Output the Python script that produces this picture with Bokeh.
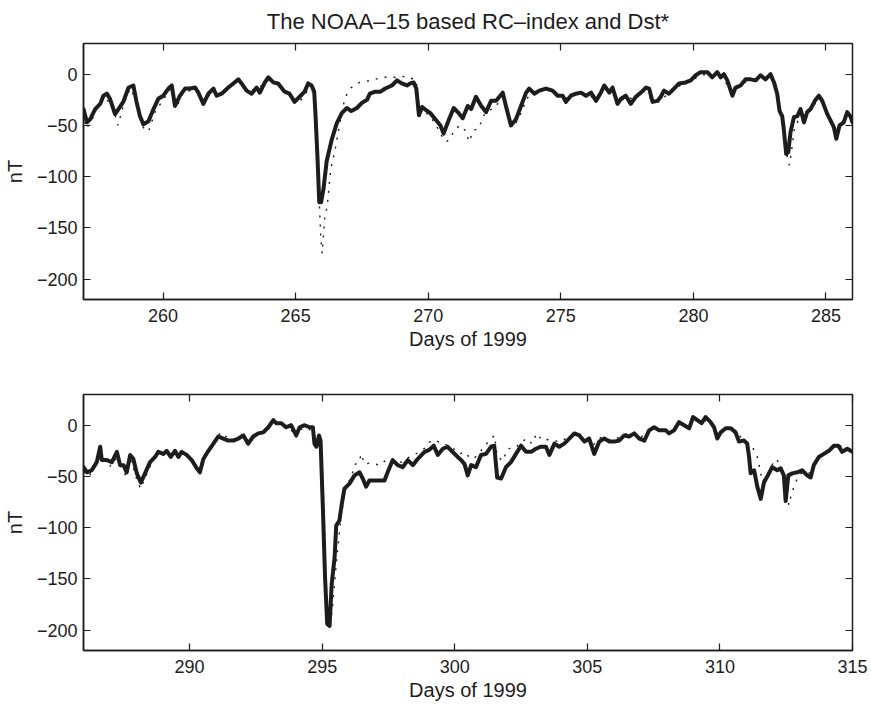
from bokeh.plotting import figure
from bokeh.layouts import column
from bokeh.models import LinearAxis, FixedTicker, Range1d, CustomLabelingPolicy
from bokeh.embed import file_html
from bokeh.resources import INLINE

TITLE = "The NOAA\u201315 based RC\u2013index and Dst*"
XLABEL = "Days of 1999"
YLABEL = "nT"

# ---------------- top panel (days 257-286) ----------------
rc_top_day = [257.0, 257.13, 257.25, 257.44, 257.63, 257.75, 257.88, 258.0, 258.19, 258.32, 258.5, 258.7, 258.88,
              259.0, 259.13, 259.26, 259.45, 259.64, 259.82, 260.01, 260.2, 260.33, 260.45, 260.64, 260.83, 261.02,
              261.21, 261.33, 261.52, 261.71, 261.9, 262.02, 262.21, 262.46, 262.65, 262.84, 262.96, 263.15, 263.34,
              263.53, 263.65, 263.84, 263.97, 264.16, 264.34, 264.58, 264.77, 264.96, 265.15, 265.34, 265.47, 265.6,
              265.7, 265.75, 265.83, 265.89, 265.96, 266.05, 266.17, 266.36, 266.55, 266.74, 266.93, 267.1, 267.31,
              267.5, 267.69, 267.8, 268.0, 268.2, 268.38, 268.63, 268.82, 269.0, 269.2, 269.32, 269.45, 269.55,
              269.65, 269.77, 269.92, 270.08, 270.27, 270.46, 270.58, 270.77, 270.96, 271.15, 271.3, 271.49, 271.62,
              271.8, 272.0, 272.18, 272.37, 272.56, 272.81, 272.93, 273.12, 273.31, 273.5, 273.69, 273.81, 274.0,
              274.19, 274.44, 274.69, 274.88, 275.07, 275.19, 275.38, 275.57, 275.76, 275.95, 276.14, 276.33, 276.51,
              276.64, 276.83, 276.95, 277.14, 277.27, 277.45, 277.64, 277.83, 278.02, 278.21, 278.33, 278.46, 278.65,
              278.77, 278.89, 279.08, 279.27, 279.46, 279.71, 279.9, 280.09, 280.27, 280.53, 280.71, 280.9, 281.03,
              281.15, 281.28, 281.37, 281.47, 281.59, 281.78, 281.97, 282.16, 282.35, 282.53, 282.72, 282.91, 283.04,
              283.16, 283.25, 283.35, 283.41, 283.5, 283.58, 283.66, 283.79, 283.92, 284.04, 284.17, 284.29, 284.42,
              284.58, 284.73, 284.86, 285.05, 285.17, 285.3, 285.39, 285.51, 285.67, 285.8, 285.92, 286.0]
rc_top_val = [-34, -47, -44, -34, -29, -21, -19, -24, -39, -34, -27, -13, -11,
              -27, -41, -49, -46, -34, -24, -21, -14, -11, -31, -21, -14, -14,
              -13, -18, -29, -19, -14, -21, -19, -13, -9, -5, -9, -16, -19,
              -13, -18, -8, -3, -8, -9, -17, -19, -27, -22, -17, -9, -11,
              -17, -40, -85, -125, -125, -112, -85, -64, -48, -38, -33, -36, -33,
              -28, -25, -19, -17, -17, -14, -11, -6, -9, -11, -9, -8, -14,
              -40, -32, -35, -38, -44, -50, -58, -45, -33, -38, -43, -31, -34,
              -22, -31, -37, -26, -26, -18, -31, -50, -44, -31, -18, -14, -19,
              -16, -14, -16, -21, -21, -27, -21, -19, -18, -21, -18, -26, -18,
              -11, -18, -13, -29, -24, -21, -29, -22, -18, -13, -14, -27, -26,
              -22, -16, -19, -14, -9, -8, -6, -1, 2, 2, -3, 2, -3,
              0, -6, -13, -21, -13, -11, -5, -5, -6, -1, -5, 0, -8,
              -19, -36, -41, -54, -78, -76, -57, -42, -41, -34, -47, -37, -34,
              -26, -21, -26, -39, -45, -52, -63, -50, -47, -37, -41, -47]

dst_top_day = [257.0, 257.1, 257.3, 257.5, 257.75, 258.0, 258.25, 258.3, 258.5, 258.75, 259.0, 259.25, 259.45,
               259.7, 260.0, 260.3, 260.5, 260.75, 261.0, 261.3, 261.5, 261.75, 262.0, 262.3, 262.6, 262.9, 263.2,
               263.5, 263.8, 264.0, 264.25, 264.5, 264.75, 265.0, 265.25, 265.5, 265.7, 265.8, 265.9, 265.95, 266.0,
               266.1, 266.19, 266.24, 266.28, 266.32, 266.41, 266.5, 266.6, 266.68, 266.78, 266.85, 267.1, 267.41,
               267.85, 268.29, 268.76, 269.17, 269.55, 269.6, 269.7, 269.9, 270.1, 270.3, 270.5, 270.67, 270.8,
               271.0, 271.2, 271.4, 271.54, 271.7, 271.9, 272.1, 272.3, 272.5, 272.7, 272.9, 273.1, 273.3, 273.5,
               273.7, 273.9, 274.2, 274.5, 274.8, 275.1, 275.4, 275.7, 276.0, 276.3, 276.6, 276.9, 277.2, 277.5,
               277.8, 278.1, 278.4, 278.7, 279.0, 279.3, 279.6, 279.9, 280.2, 280.5, 280.8, 281.1, 281.4, 281.7,
               282.0, 282.3, 282.6, 282.9, 283.1, 283.2, 283.3, 283.45, 283.55, 283.62, 283.7, 283.8, 283.95,
               284.1, 284.3, 284.5, 284.75, 285.0, 285.2, 285.4, 285.6, 285.8, 286.0]
dst_top_val = [-38, -53, -46, -33, -24, -27, -44, -50, -31, -14, -25, -52, -56,
               -37, -25, -14, -33, -18, -16, -17, -31, -20, -21, -18, -11, -7, -17,
               -14, -10, -5, -10, -15, -20, -29, -24, -14, -18, -60, -130, -160, -175,
               -140, -129, -116, -104, -93, -83, -72, -58, -45, -34, -23, -13, -8,
               -6, -3, -3, -2, -6, -21, -38, -37, -42, -50, -60, -66, -64,
               -54, -50, -55, -66, -55, -53, -40, -35, -33, -26, -27, -45, -48, -38,
               -25, -17, -16, -14, -18, -24, -22, -19, -20, -24, -14, -14, -27, -22,
               -25, -16, -24, -27, -20, -15, -9, -7, -2, 0, -2, -2, -17, -13,
               -7, -6, -3, -2, -12, -24, -38, -60, -82, -89, -75, -55, -45,
               -40, -40, -32, -23, -35, -47, -58, -48, -42, -44]

# ---------------- bottom panel (days 286-315) ----------------
rc_bot_day = [286.0, 286.13, 286.31, 286.5, 286.63, 286.69, 286.88, 287.07, 287.26, 287.38, 287.51, 287.63, 287.76,
              287.88, 288.01, 288.16, 288.32, 288.51, 288.7, 288.82, 289.01, 289.14, 289.29, 289.45, 289.58, 289.7,
              289.89, 290.08, 290.27, 290.39, 290.52, 290.71, 290.9, 291.08, 291.27, 291.46, 291.65, 291.84, 292.03,
              292.21, 292.4, 292.59, 292.78, 292.97, 293.16, 293.27, 293.46, 293.64, 293.83, 294.02, 294.15, 294.34,
              294.52, 294.65, 294.71, 294.78, 294.88, 294.94, 295.03, 295.11, 295.19, 295.28, 295.36, 295.47, 295.53,
              295.65, 295.74, 295.84, 296.03, 296.22, 296.41, 296.53, 296.66, 296.78, 296.97, 297.16, 297.35, 297.47,
              297.66, 297.85, 298.04, 298.23, 298.42, 298.6, 298.86, 299.04, 299.21, 299.36, 299.55, 299.73, 299.92,
              300.11, 300.24, 300.37, 300.49, 300.62, 300.8, 300.99, 301.18, 301.37, 301.49, 301.6, 301.75, 301.93,
              302.12, 302.31, 302.5, 302.69, 302.88, 303.06, 303.25, 303.44, 303.57, 303.76, 303.94, 304.13, 304.32,
              304.51, 304.7, 304.89, 305.07, 305.26, 305.45, 305.64, 305.83, 306.02, 306.2, 306.39, 306.58, 306.77,
              306.96, 307.15, 307.33, 307.52, 307.71, 307.96, 308.08, 308.27, 308.46, 308.65, 308.84, 308.99, 309.15,
              309.31, 309.46, 309.65, 309.78, 309.9, 310.03, 310.22, 310.41, 310.59, 310.72, 310.91, 311.03, 311.1,
              311.16, 311.29, 311.41, 311.54, 311.66, 311.85, 311.97, 312.16, 312.29, 312.41, 312.48, 312.58, 312.73,
              312.92, 313.1, 313.29, 313.42, 313.54, 313.73, 313.92, 314.11, 314.3, 314.46, 314.61, 314.8, 315.0]
rc_bot_val = [-41, -46, -44, -36, -21, -34, -34, -36, -26, -39, -39, -46, -29,
              -33, -47, -56, -47, -36, -31, -26, -28, -25, -31, -25, -31, -26,
              -29, -34, -42, -46, -33, -25, -18, -11, -13, -15, -15, -13, -10,
              -18, -11, -8, -7, -2, 5, 2, 2, -2, 0, -10, -2, 0,
              -2, -2, -18, -21, -10, -15, -83, -149, -194, -196, -155, -129, -98,
              -93, -77, -62, -57, -49, -46, -52, -60, -54, -54, -54, -54, -46,
              -34, -39, -41, -34, -39, -33, -26, -24, -20, -29, -23, -21, -26,
              -31, -34, -38, -49, -39, -41, -29, -28, -21, -20, -51, -52, -41,
              -36, -28, -20, -26, -26, -23, -21, -21, -29, -18, -21, -18, -13,
              -8, -10, -16, -13, -28, -16, -13, -16, -16, -15, -10, -11, -8,
              -13, -15, -5, -2, -5, -5, -8, -5, 3, 0, -3, 8, 5,
              2, 8, 3, -2, -13, -7, -3, -3, -7, -16, -15, -18, -31,
              -47, -44, -60, -72, -56, -47, -41, -44, -42, -49, -74, -49, -47,
              -46, -44, -49, -51, -39, -31, -28, -25, -20, -20, -26, -23, -26]

dst_bot_day = [286.0, 286.2, 286.4, 286.6, 286.8, 287.0, 287.2, 287.4, 287.6, 287.8, 288.0, 288.15, 288.35,
               288.55, 288.8, 289.0, 289.2, 289.4, 289.6, 289.8, 290.0, 290.2, 290.4, 290.6, 290.8, 291.0, 291.2,
               291.5, 291.8, 292.0, 292.2, 292.5, 292.8, 293.0, 293.2, 293.5, 293.8, 294.0, 294.2, 294.5, 294.7,
               294.9, 295.0, 295.05, 295.1, 295.15, 295.2, 295.27, 295.33, 295.4, 295.45, 295.5, 295.55, 295.6,
               295.65, 295.7, 295.78, 295.85, 295.95, 296.1, 296.25, 296.4, 296.47, 296.6, 296.8, 297.0, 297.2,
               297.4, 297.6, 297.8, 298.0, 298.2, 298.4, 298.6, 298.9, 299.1, 299.3, 299.5, 299.8, 300.0, 300.2,
               300.37, 300.5, 300.7, 300.9, 301.2, 301.5, 301.6, 301.8, 302.0, 302.3, 302.5, 302.75, 302.9, 303.1,
               303.3, 303.5, 303.7, 304.0, 304.3, 304.6, 304.9, 305.2, 305.5, 305.8, 306.1, 306.4, 306.7, 307.0,
               307.3, 307.6, 307.9, 308.2, 308.5, 308.8, 309.1, 309.4, 309.7, 309.9, 310.2, 310.5, 310.8, 311.0,
               311.15, 311.29, 311.41, 311.5, 311.6, 311.75, 311.9, 312.1, 312.3, 312.45, 312.6, 312.7, 312.85,
               313.0, 313.2, 313.4, 313.6, 313.8, 314.0, 314.3, 314.5, 314.7, 315.0]
dst_bot_val = [-45, -50, -42, -30, -37, -40, -33, -38, -50, -35, -52, -62, -50,
               -38, -25, -27, -24, -28, -28, -27, -32, -38, -42, -31, -20, -12, -7,
               -14, -14, -9, -15, -9, -7, -2, 3, -1, -3, -12, -4, -3, -14,
               -20, -40, -70, -110, -160, -192, -198, -190, -175, -160, -145, -130, -118,
               -105, -92, -78, -65, -58, -50, -38, -36, -28, -38, -37, -38, -39,
               -34, -33, -36, -36, -32, -30, -27, -22, -15, -15, -18, -20, -24, -28,
               -26, -30, -33, -28, -18, -10, -30, -35, -23, -22, -16, -13, -18, -8,
               -15, -14, -15, -16, -11, -8, -12, -20, -12, -14, -13, -9, -7, -12,
               -6, -3, -5, -6, 1, -2, 5, 5, 1, -8, -4, -5, -12, -16,
               -20, -24, -31, -42, -55, -50, -42, -33, -38, -55, -78, -67, -56,
               -48, -45, -47, -37, -30, -27, -22, -19, -24, -23]

X_TICKS_TOP = [260, 265, 270, 275, 280, 285]
X_TICKS_BOT = [290, 295, 300, 305, 310, 315]
Y_TICKS = [-200, -150, -100, -50, 0]
Y_TICK_LABELS = {-200: "\u2212200", -150: "\u2212150", -100: "\u2212100", -50: "\u221250", 0: "0"}

FONT = "Liberation Sans"
INK = "#1e1c1d"

NO_LABELS = "for (const i of Array.from(indices.ones())) { indices.unset(i) } return indices"


def make_panel(rc_day, rc_val, dst_day, dst_val, xr, xticks, height, top_border, bottom_border, title=None):
    p = figure(width=871, height=height, output_backend="svg", toolbar_location=None,
               x_range=Range1d(*xr), y_range=Range1d(-220, 30),
               min_border_left=82, min_border_right=19,
               min_border_top=top_border, min_border_bottom=bottom_border,
               x_axis_label=XLABEL, y_axis_label=YLABEL)
    if title:
        p.title.text = title
        p.title.align = "center"
        p.title.vertical_align = "top"
        p.title.text_font = FONT
        p.title.text_font_size = "22px"
        p.title.text_font_style = "normal"
        p.title.text_color = INK
        p.title.standoff = 16
    p.grid.visible = False
    p.outline_line_color = INK
    p.outline_line_width = 1.5
    p.background_fill_color = "white"
    p.border_fill_color = "white"

    p.xaxis.ticker = FixedTicker(ticks=xticks)
    p.yaxis.ticker = FixedTicker(ticks=Y_TICKS)
    p.yaxis.major_label_overrides = Y_TICK_LABELS
    for ax in (p.xaxis[0], p.yaxis[0]):
        ax.major_tick_in = 7
        ax.major_tick_out = 0
        ax.minor_tick_line_color = None
        ax.major_tick_line_color = INK
        ax.major_tick_line_width = 1.2
        ax.axis_line_color = INK
        ax.axis_line_width = 1.5
        ax.major_label_text_font = FONT
        ax.major_label_text_font_size = "18px"
        ax.major_label_text_color = INK
        ax.axis_label_text_font = FONT
        ax.axis_label_text_font_size = "20px"
        ax.axis_label_text_font_style = "normal"
        ax.axis_label_text_color = INK
    p.xaxis.major_label_standoff = 9
    p.xaxis.axis_label_standoff = 3
    p.yaxis.major_label_standoff = 6
    p.yaxis.axis_label_standoff = 8

    for side, tk in (("right", Y_TICKS), ("above", xticks)):
        ax = LinearAxis(ticker=FixedTicker(ticks=tk), major_tick_in=7, major_tick_out=0,
                        minor_tick_line_color=None, axis_line_color=None,
                        major_tick_line_color=INK, major_tick_line_width=1.2,
                        major_label_text_font_size="0px", major_label_standoff=0,
                        major_label_policy=CustomLabelingPolicy(code=NO_LABELS))
        p.add_layout(ax, side)

    p.line(dst_day, dst_val, line_color=INK, line_width=1.4, line_dash="2 7")
    p.line(rc_day, rc_val, line_color=INK, line_width=4, line_join="round", line_cap="round")
    return p


p1 = make_panel(rc_top_day, rc_top_val, dst_top_day, dst_top_val, (257, 286), X_TICKS_TOP,
                height=356, top_border=43, bottom_border=57, title=TITLE)
p2 = make_panel(rc_bot_day, rc_bot_val, dst_bot_day, dst_bot_val, (286, 315), X_TICKS_BOT,
                height=349, top_border=38, bottom_border=55)

layout = column(p1, p2, spacing=0)
open("out.html", "w").write(file_html(layout, INLINE))
